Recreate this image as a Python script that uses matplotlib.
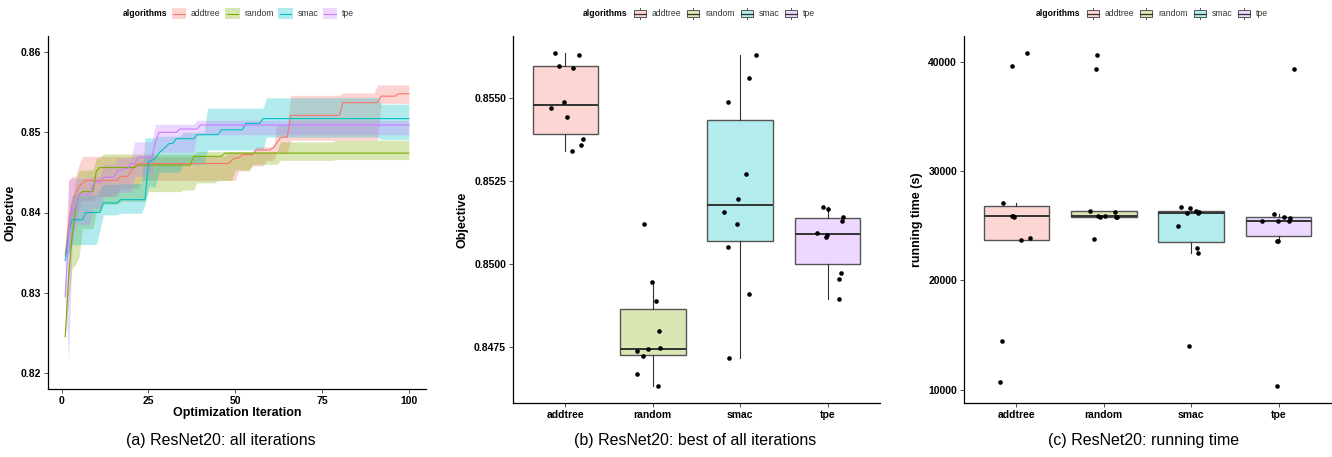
import numpy as np
import matplotlib
matplotlib.use("Agg")
import matplotlib.pyplot as plt
from matplotlib.legend_handler import HandlerBase
from matplotlib.patches import Rectangle, Patch
from matplotlib.lines import Line2D

plt.rcParams['font.family'] = ['Liberation Sans', 'DejaVu Sans']

# ---------------- data ----------------
algorithms = ["addtree", "random", "smac", "tpe"]
colors = ["#F8766D", "#7CAE00", "#00BFC4", "#C77CFF"]
n_iter = 100

# Panel (a): best-so-far objective, stored as runs (first iteration of run, value)
addtree_mean_start = [1, 2, 3, 4, 5, 6, 7, 17, 20, 21, 22, 49, 50, 52, 56, 61, 62, 63, 64, 66, 81, 92, 97]
addtree_mean_val = [0.8347, 0.8385, 0.8410, 0.8424, 0.8432, 0.8437, 0.8440, 0.8445, 0.8452, 0.8458, 0.8461,
                    0.8465, 0.8468, 0.8472, 0.8478, 0.8481, 0.8487, 0.8493, 0.8494, 0.8521, 0.8537, 0.8545, 0.8548]
random_mean_start = [1, 2, 3, 4, 5, 6, 10, 11, 22, 38, 47]
random_mean_val = [0.8245, 0.8320, 0.8370, 0.8405, 0.8423, 0.8426, 0.8452, 0.8456, 0.8459, 0.8470, 0.8474]
smac_mean_start = [1, 2, 3, 7, 12, 17, 25, 26, 27, 28, 29, 30, 31, 33, 39, 46, 53, 58]
smac_mean_val = [0.8340, 0.8375, 0.8391, 0.8400, 0.8412, 0.8416, 0.8463, 0.8465, 0.8468, 0.8474, 0.8478,
                 0.8482, 0.8486, 0.8492, 0.8497, 0.8503, 0.8511, 0.8517]
tpe_mean_start = [1, 2, 3, 5, 9, 10, 12, 16, 18, 20, 22, 27, 28, 34, 40]
tpe_mean_val = [0.8295, 0.8374, 0.8405, 0.8423, 0.8434, 0.8438, 0.8444, 0.8452, 0.8455, 0.8461, 0.8469,
                0.8488, 0.8500, 0.8504, 0.8509]

addtree_band_start = [1, 2, 3, 4, 5, 6, 10, 17, 23, 48, 51, 55, 56, 59, 62, 66, 81, 91, 92]
addtree_band_lo = [0.8347, 0.8350, 0.8365, 0.8390, 0.8405, 0.8415, 0.8420, 0.8430, 0.8440, 0.8440, 0.8452,
                   0.8458, 0.8458, 0.8465, 0.8475, 0.8490, 0.8490, 0.8490, 0.8536]
addtree_band_hi = [0.8347, 0.8440, 0.8445, 0.8445, 0.8460, 0.8470, 0.8470, 0.8470, 0.8470, 0.8475, 0.8475,
                   0.8475, 0.8482, 0.8482, 0.8510, 0.8546, 0.8549, 0.8559, 0.8559]
random_band_start = [1, 2, 3, 4, 5, 6, 10, 12, 17, 25, 35, 39, 45, 50, 55, 63, 79]
random_band_lo = [0.8245, 0.8290, 0.8330, 0.8335, 0.8345, 0.8380, 0.8400, 0.8410, 0.8414, 0.8426, 0.8428,
                  0.8437, 0.8440, 0.8453, 0.8460, 0.8465, 0.8466]
random_band_hi = [0.8245, 0.8360, 0.8410, 0.8440, 0.8452, 0.8453, 0.8468, 0.8473, 0.8473, 0.8473, 0.8473,
                  0.8476, 0.8476, 0.8476, 0.8476, 0.8488, 0.8490]
smac_band_start = [1, 2, 3, 11, 12, 17, 24, 25, 28, 35, 42, 59, 92]
smac_band_lo = [0.8340, 0.8350, 0.8360, 0.8378, 0.8397, 0.8399, 0.8410, 0.8432, 0.8450, 0.8460, 0.8478,
                0.8494, 0.8491]
smac_band_hi = [0.8340, 0.8400, 0.8422, 0.8430, 0.8435, 0.8436, 0.8493, 0.8493, 0.8495, 0.8500, 0.8530,
                0.8543, 0.8535]
tpe_band_start = [1, 2, 3, 4, 9, 12, 16, 21, 24, 27, 39]
tpe_band_lo = [0.8290, 0.8215, 0.8360, 0.8385, 0.8405, 0.8420, 0.8425, 0.8445, 0.8448, 0.8475, 0.8497]
tpe_band_hi = [0.8300, 0.8440, 0.8443, 0.8443, 0.8445, 0.8460, 0.8468, 0.8488, 0.8488, 0.8510, 0.8515]

# Panel (b): best objective of each run
best_addtree = [0.856369, 0.856289, 0.855967, 0.855916, 0.854899, 0.854698, 0.854426, 0.853772, 0.853600, 0.853399]
best_random = [0.851224, 0.849472, 0.848898, 0.847992, 0.847408, 0.847439, 0.847469, 0.847237, 0.846704, 0.846331]
best_smac = [0.856289, 0.855594, 0.854889, 0.852714, 0.851959, 0.851587, 0.851224, 0.850520, 0.849100, 0.847177]
best_tpe = [0.851718, 0.851667, 0.851436, 0.851305, 0.850932, 0.850882, 0.850832, 0.849734, 0.849573, 0.848969]
jitter_b_addtree = [-0.125, 0.160, -0.076, 0.087, -0.011, -0.167, 0.015, 0.200, 0.179, 0.076]
jitter_b_random = [-0.106, -0.004, 0.042, 0.076, -0.186, -0.053, 0.084, -0.114, -0.179, 0.065]
jitter_b_smac = [0.186, 0.106, -0.137, 0.068, -0.027, -0.186, -0.034, -0.137, 0.099, -0.129]
jitter_b_tpe = [-0.053, 0.008, 0.171, 0.163, -0.122, -0.008, -0.023, 0.156, 0.133, 0.129]

# Panel (c): running time (s) of each run
time_addtree = [40821, 39574, 27099, 25882, 25882, 25822, 23905, 23661, 14472, 10669]
time_random = [40639, 39300, 26369, 26278, 25882, 25882, 25791, 25791, 25791, 23783]
time_smac = [26673, 26582, 26369, 26278, 26126, 26156, 24970, 22961, 22505, 13986]
time_tpe = [39300, 26065, 25456, 25426, 25761, 25700, 25456, 23570, 23570, 10304]
jitter_c_addtree = [0.118, -0.053, -0.152, -0.038, -0.046, -0.027, 0.159, 0.057, -0.163, -0.193]
jitter_c_random = [-0.080, -0.091, -0.159, 0.129, 0.011, -0.072, -0.038, 0.152, 0.140, -0.110]
jitter_c_smac = [-0.121, -0.019, 0.057, 0.095, -0.045, 0.080, -0.155, 0.072, 0.083, -0.027]
jitter_c_tpe = [0.174, -0.057, -0.186, -0.004, 0.064, 0.133, 0.125, -0.023, -0.008, -0.019]

captions = ["(a) ResNet20: all iterations", "(b) ResNet20: best of all iterations", "(c) ResNet20: running time"]


def hold(starts, vals):
    counts = np.diff(list(starts) + [n_iter + 1])
    return np.repeat(np.asarray(vals, dtype=float), counts)


def blend(c, a):
    rgb = np.array(matplotlib.colors.to_rgb(c))
    return tuple(1 - a * (1 - rgb))


EDGE = "#333333"
TICKFS = 7.5
TITLEFS = 9.0


class RibbonHandler(HandlerBase):
    def create_artists(self, legend, orig_handle, xdescent, ydescent, width, height, fontsize, trans):
        c = orig_handle.get_edgecolor()
        r = Rectangle((-xdescent, -ydescent), width, height, facecolor=c, alpha=0.3,
                      edgecolor="none", transform=trans)
        ln = Line2D([-xdescent + 1, -xdescent + width - 1], [-ydescent + height / 2] * 2,
                    color=c, lw=0.8, transform=trans)
        return [r, ln]


class BoxHandler(HandlerBase):
    def create_artists(self, legend, orig_handle, xdescent, ydescent, width, height, fontsize, trans):
        fc = orig_handle.get_facecolor()
        x0, y0 = -xdescent, -ydescent
        cx = x0 + width / 2
        wl = Line2D([cx, cx], [y0, y0 + height], color="#555555", lw=0.7, transform=trans)
        r = Rectangle((x0 + width * 0.08, y0 + height * 0.22), width * 0.84, height * 0.56,
                      facecolor=fc, edgecolor="#555555", lw=0.7, transform=trans)
        m = Line2D([x0 + width * 0.08, x0 + width * 0.92], [y0 + height / 2] * 2,
                   color="#333333", lw=0.9, transform=trans)
        return [wl, r, m]


def style_axes(ax):
    for s in ["top", "right"]:
        ax.spines[s].set_visible(False)
    for s in ["left", "bottom"]:
        ax.spines[s].set_linewidth(0.9)
        ax.spines[s].set_color("black")
    ax.tick_params(axis="both", length=3, width=0.6, color="#333333", labelsize=TICKFS, pad=2)
    for lab in ax.get_xticklabels() + ax.get_yticklabels():
        lab.set_fontweight("bold")
        lab.set_color("black")


def add_legend(fig, title_right_px, key_left_px, kind):
    W, H = 1332.0, 457.0
    ycen = 1 - 13.5 / H
    fig.text(title_right_px / W, ycen, "algorithms", ha="right", va="center",
             fontsize=6.2, fontweight="bold")
    if kind == "ribbon":
        handles = [Patch(edgecolor=c, facecolor=c) for c in colors]
        hmap = {h: RibbonHandler() for h in handles}
    else:
        handles = [Patch(facecolor=blend(c, 0.3), edgecolor="#555555") for c in colors]
        hmap = {h: BoxHandler() for h in handles}
    leg = fig.legend(handles, algorithms, loc="center left",
                     bbox_to_anchor=(key_left_px / W, ycen), ncol=4, frameon=False,
                     fontsize=6.2, handlelength=1.65, handleheight=1.6, handletextpad=0.55,
                     columnspacing=0.55, borderpad=0, borderaxespad=0, handler_map=hmap)
    for t in leg.get_texts():
        t.set_color("#333333")


fig = plt.figure(figsize=(13.32, 4.57), dpi=100)
W, H = 1332.0, 457.0


def ax_at(l, t, r, b):
    return fig.add_axes([l / W, 1 - b / H, (r - l) / W, (b - t) / H])


# ---------------- panel (a) ----------------
ax1 = ax_at(48, 36, 426, 389)
iters = np.arange(1, n_iter + 1)
means = [(addtree_mean_start, addtree_mean_val), (random_mean_start, random_mean_val),
         (smac_mean_start, smac_mean_val), (tpe_mean_start, tpe_mean_val)]
bands = [(addtree_band_start, addtree_band_lo, addtree_band_hi),
         (random_band_start, random_band_lo, random_band_hi),
         (smac_band_start, smac_band_lo, smac_band_hi),
         (tpe_band_start, tpe_band_lo, tpe_band_hi)]
for (st, lo, hi), c in zip(bands, colors):
    ax1.fill_between(iters, hold(st, lo), hold(st, hi), color=c, alpha=0.3, lw=0)
for (st, v), c in zip(means, colors):
    ax1.plot(iters, hold(st, v), color=c, lw=0.8)
ax1.set_xlim(1 - 0.05 * 99, 100 + 0.05 * 99)
ax1.set_ylim(0.818, 0.862)
ax1.set_xticks([0, 25, 50, 75, 100])
ax1.set_yticks([0.82, 0.83, 0.84, 0.85, 0.86])
ax1.set_yticklabels(["0.82", "0.83", "0.84", "0.85", "0.86"])
ax1.set_xlabel("Optimization Iteration", fontsize=TITLEFS, fontweight="bold", labelpad=1)
ax1.set_ylabel("Objective", fontsize=TITLEFS, fontweight="bold", labelpad=3)
style_axes(ax1)


def box_panel(ax, data, jitters, fmt_ticks, ylabel):
    pos = np.arange(len(algorithms))
    bp = ax.boxplot(data, positions=pos, widths=0.75, whis=1.5, showfliers=False,
                    patch_artist=True, manage_ticks=False,
                    medianprops=dict(color="#333333", lw=1.4),
                    whiskerprops=dict(color="#333333", lw=0.8),
                    capprops=dict(lw=0),
                    boxprops=dict(edgecolor="#555555", lw=1.0))
    for patch, c in zip(bp["boxes"], colors):
        patch.set_facecolor(blend(c, 0.3))
    for i, (d, j) in enumerate(zip(data, jitters)):
        ax.scatter(i + np.asarray(j), d, s=11, color="black", zorder=5, lw=0)
    dmin = min(min(d) for d in data)
    dmax = max(max(d) for d in data)
    rng = dmax - dmin
    ax.set_ylim(dmin - 0.05 * rng, dmax + 0.05 * rng)
    ax.set_xlim(-0.6, len(algorithms) - 1 + 0.6)
    ax.set_xticks(pos)
    ax.set_xticklabels(algorithms)
    ax.set_ylabel(ylabel, fontsize=TITLEFS, fontweight="bold", labelpad=4)
    fmt_ticks(ax)
    style_axes(ax)


# ---------------- panel (b) ----------------
ax2 = ax_at(513, 36, 880, 403)


def fmt_b(ax):
    t = [0.8475, 0.8500, 0.8525, 0.8550]
    ax.set_yticks(t)
    ax.set_yticklabels(["%.4f" % v for v in t])


box_panel(ax2, [best_addtree, best_random, best_smac, best_tpe],
          [jitter_b_addtree, jitter_b_random, jitter_b_smac, jitter_b_tpe], fmt_b, "Objective")

# ---------------- panel (c) ----------------
ax3 = ax_at(964, 36, 1331, 403)


def fmt_c(ax):
    t = [10000, 20000, 30000, 40000]
    ax.set_yticks(t)
    ax.set_yticklabels([str(v) for v in t])


box_panel(ax3, [time_addtree, time_random, time_smac, time_tpe],
          [jitter_c_addtree, jitter_c_random, jitter_c_smac, jitter_c_tpe], fmt_c, "running time (s)")

# ---------------- legends ----------------
add_legend(fig, 167, 172, "ribbon")
add_legend(fig, 627, 633, "box")
add_legend(fig, 1080, 1086, "box")

# ---------------- captions ----------------
for xc, cap in zip([221, 695, 1144], captions):
    fig.text(xc / W, 1 - 440 / H, cap, ha="center", va="center", fontsize=11.5)

fig.savefig("out.png", dpi=100)
